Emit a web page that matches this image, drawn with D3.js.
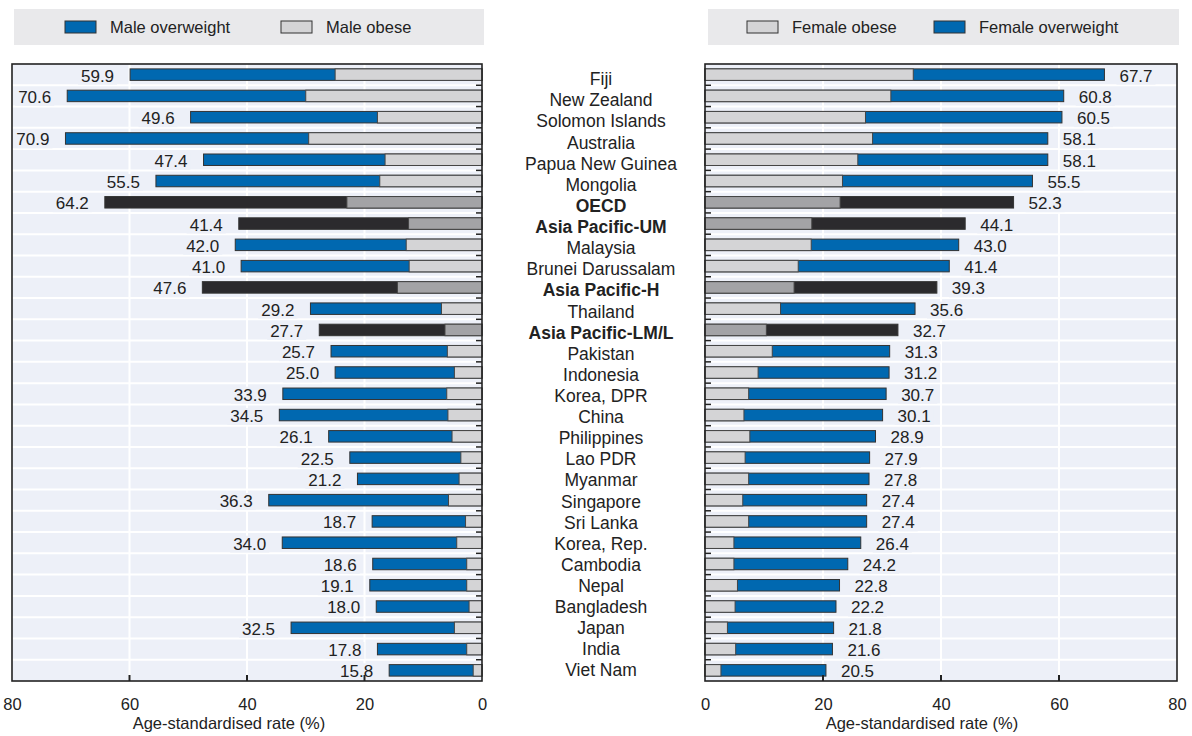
<!DOCTYPE html>
<html>
<head>
<meta charset="utf-8">
<script src="https://cdn.jsdelivr.net/npm/d3@7"></script>
<style>
  body { margin: 0; background: #fff; }
  text { font-family: "Liberation Sans", Arial, sans-serif; fill: #222; }
</style>
</head>
<body>
<div id="chart"></div>
<script>
const countries = ['Fiji', 'New Zealand', 'Solomon Islands', 'Australia', 'Papua New Guinea', 'Mongolia',
    'OECD', 'Asia Pacific-UM', 'Malaysia', 'Brunei Darussalam', 'Asia Pacific-H', 'Thailand',
    'Asia Pacific-LM/L', 'Pakistan', 'Indonesia', 'Korea, DPR', 'China', 'Philippines', 'Lao PDR',
    'Myanmar', 'Singapore', 'Sri Lanka', 'Korea, Rep.', 'Cambodia', 'Nepal', 'Bangladesh', 'Japan',
    'India', 'Viet Nam'];
const aggregates = ['OECD', 'Asia Pacific-UM', 'Asia Pacific-H', 'Asia Pacific-LM/L'];

const maleOverweight = [59.9, 70.6, 49.6, 70.9, 47.4, 55.5, 64.2, 41.4, 42.0, 41.0, 47.6, 29.2, 27.7, 25.7,
    25.0, 33.9, 34.5, 26.1, 22.5, 21.2, 36.3, 18.7, 34.0, 18.6, 19.1, 18.0, 32.5, 17.8, 15.8];
const maleObese = [25.0, 30.0, 17.8, 29.5, 16.5, 17.4, 23.0, 12.5, 12.9, 12.4, 14.4, 6.9, 6.3, 5.9,
    4.7, 6.0, 5.8, 5.1, 3.6, 3.9, 5.7, 2.8, 4.3, 2.6, 2.6, 2.2, 4.7, 2.6, 1.5];
const femaleOverweight = [67.7, 60.8, 60.5, 58.1, 58.1, 55.5, 52.3, 44.1, 43.0, 41.4, 39.3, 35.6, 32.7, 31.3,
    31.2, 30.7, 30.1, 28.9, 27.9, 27.8, 27.4, 27.4, 26.4, 24.2, 22.8, 22.2, 21.8, 21.6, 20.5];
const femaleObese = [35.3, 31.5, 27.2, 28.4, 25.9, 23.3, 22.9, 18.1, 18.0, 15.8, 15.1, 12.8, 10.4, 11.4,
    9.0, 7.4, 6.6, 7.6, 6.8, 7.4, 6.4, 7.4, 4.9, 4.9, 5.5, 5.1, 3.8, 5.2, 2.7];
const xTicks = [0, 20, 40, 60, 80];

const W = 1192, H = 736;
const TOP = 64, BOTTOM = 681;
const BLUE = '#0068b0', GREY = '#d4d4d6', DARK = '#2b2a2d', DARK_GREY = '#a3a3a6';
const PANEL_BG = '#edf0f8';
const FONT = 16.5;

const svg = d3.select('#chart').append('svg')
    .attr('width', W).attr('height', H);

const y = d3.scaleBand()
    .domain(countries)
    .range([TOP, BOTTOM])
    .paddingInner(0.46)
    .paddingOuter(0.23);

// the category labels in the original drift slightly against the bars
const yLabel = d3.scalePoint()
    .domain(countries)
    .range([y(countries[0]) + y.bandwidth() / 2 + 4.5,
            y(countries[countries.length - 1]) + y.bandwidth() / 2]);

const isAgg = c => aggregates.includes(c);

function panel(opts) {
    const { x, overweight, obese, side, legend, legendBg } = opts;
    const [x0, x1] = [Math.min(...x.range()), Math.max(...x.range())];
    const g = svg.append('g');

    // legend
    g.append('rect')
        .attr('x', legendBg[0]).attr('y', 9)
        .attr('width', legendBg[1] - legendBg[0]).attr('height', 36)
        .attr('fill', '#e9e9eb');
    legend.forEach(l => {
        g.append('rect')
            .attr('x', l.x).attr('y', 21).attr('width', 31).attr('height', 12)
            .attr('fill', l.color).attr('stroke', '#333').attr('stroke-width', 1);
        g.append('text')
            .attr('x', l.x + 45).attr('y', 27).attr('dy', '0.35em')
            .attr('font-size', FONT).text(l.label);
    });

    // panel background
    g.append('rect')
        .attr('x', x0).attr('y', TOP).attr('width', x1 - x0).attr('height', BOTTOM - TOP)
        .attr('fill', PANEL_BG);

    // vertical grid
    g.selectAll('.vgrid').data([20, 40, 60]).enter().append('line')
        .attr('x1', d => x(d)).attr('x2', d => x(d))
        .attr('y1', TOP).attr('y2', BOTTOM)
        .attr('stroke', '#fff').attr('stroke-width', 2);

    // row separators
    const step = y.step();
    g.selectAll('.hgrid').data(d3.range(1, countries.length)).enter().append('line')
        .attr('x1', x0).attr('x2', x1)
        .attr('y1', i => TOP + i * step).attr('y2', i => TOP + i * step)
        .attr('stroke', '#fff').attr('stroke-width', 2);

    const rows = countries.map((c, i) => ({ c, ow: overweight[i], ob: obese[i] }));

    // value labels with background
    const lab = g.selectAll('.vlab').data(rows).enter().append('g');
    lab.append('text')
        .attr('x', d => side === 'left' ? x(d.ow) - 16 : x(d.ow) + 15)
        .attr('y', d => y(d.c) + y.bandwidth() / 2 + 1)
        .attr('dy', '0.35em')
        .attr('text-anchor', side === 'left' ? 'end' : 'start')
        .attr('font-size', 17)
        .text(d => d.ow.toFixed(1))
        .each(function () {
            const b = this.getBBox();
            d3.select(this.parentNode).insert('rect', 'text')
                .attr('x', b.x - 3).attr('y', b.y + 1)
                .attr('width', b.width + 6).attr('height', b.height - 2)
                .attr('fill', PANEL_BG);
        });

    // overweight bars (full length)
    g.selectAll('.ow').data(rows).enter().append('rect')
        .attr('x', d => Math.min(x(0), x(d.ow)))
        .attr('y', d => y(d.c))
        .attr('width', d => Math.abs(x(d.ow) - x(0)))
        .attr('height', y.bandwidth())
        .attr('fill', d => isAgg(d.c) ? DARK : BLUE)
        .attr('stroke', '#333').attr('stroke-width', 1);

    // obese bars on top
    g.selectAll('.ob').data(rows).enter().append('rect')
        .attr('x', d => Math.min(x(0), x(d.ob)))
        .attr('y', d => y(d.c))
        .attr('width', d => Math.abs(x(d.ob) - x(0)))
        .attr('height', y.bandwidth())
        .attr('fill', d => isAgg(d.c) ? DARK_GREY : GREY)
        .attr('stroke', '#444').attr('stroke-width', 1);

    // frame
    g.append('rect')
        .attr('x', x0).attr('y', TOP).attr('width', x1 - x0).attr('height', BOTTOM - TOP)
        .attr('fill', 'none').attr('stroke', '#222').attr('stroke-width', 1.6);

    // category-side ticks
    const zx = x(0);
    const dir = side === 'left' ? -1 : 1;
    g.selectAll('.ctick').data(d3.range(1, countries.length)).enter().append('line')
        .attr('x1', zx).attr('x2', zx + dir * 6)
        .attr('y1', i => TOP + i * step).attr('y2', i => TOP + i * step)
        .attr('stroke', '#222').attr('stroke-width', 1.5);

    // bottom axis
    const axis = d3.axisBottom(x).tickValues(xTicks).tickSize(0).tickPadding(17);
    const ax = g.append('g').attr('transform', `translate(0,${BOTTOM})`).call(axis);
    ax.select('.domain').remove();
    ax.selectAll('text').attr('font-size', FONT)
        .attr('font-family', '"Liberation Sans", Arial, sans-serif').attr('fill', '#222');
    g.selectAll('.btick').data([20, 40, 60]).enter().append('line')
        .attr('x1', d => x(d)).attr('x2', d => x(d))
        .attr('y1', BOTTOM).attr('y2', BOTTOM - 6)
        .attr('stroke', '#222').attr('stroke-width', 2);

    g.append('text')
        .attr('x', opts.titleX).attr('y', 723).attr('dy', '0.35em')
        .attr('text-anchor', 'middle').attr('font-size', FONT)
        .text('Age-standardised rate (%)');
}

panel({
    x: d3.scaleLinear().domain([0, 80]).range([482, 12]),
    overweight: maleOverweight, obese: maleObese, side: 'left',
    legendBg: [14, 484],
    legend: [
        { x: 65, color: BLUE, label: 'Male overweight' },
        { x: 281, color: GREY, label: 'Male obese' }
    ],
    titleX: 229
});

panel({
    x: d3.scaleLinear().domain([0, 80]).range([705, 1177]),
    overweight: femaleOverweight, obese: femaleObese, side: 'right',
    legendBg: [708, 1179],
    legend: [
        { x: 747, color: GREY, label: 'Female obese' },
        { x: 934, color: BLUE, label: 'Female overweight' }
    ],
    titleX: 922
});

// category labels
svg.selectAll('.cat').data(countries).enter().append('text')
    .attr('x', 601)
    .attr('y', c => yLabel(c))
    .attr('dy', '0.35em')
    .attr('text-anchor', 'middle')
    .attr('font-size', 17.5)
    .attr('font-weight', c => isAgg(c) ? 'bold' : 'normal')
    .text(c => c);
</script>
</body>
</html>
